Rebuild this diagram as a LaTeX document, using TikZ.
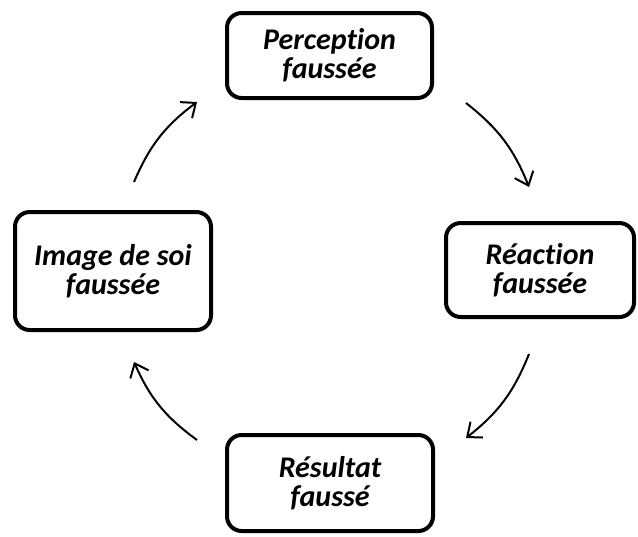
\documentclass[tikz,border=0pt]{standalone}
\usepackage{fontspec}
\setmainfont{Carlito}[RawFeature=-liga]
\usetikzlibrary{arrows.meta}

\tikzset{
  stage/.style={draw, line width=3pt, rounded corners=11pt, align=center, inner sep=0pt,
    font=\fontsize{22.5}{21.5}\selectfont\bfseries\itshape},
  cyc/.style={-{Straight Barb[length=9pt,width=15pt,line width=1.5pt]}, line width=1.5pt, bend left=15},
}

\begin{document}
\begin{tikzpicture}[x=0.75pt,y=-0.75pt]
  \useasboundingbox (0,0) rectangle (638,536);

  \node[stage, minimum width=153.75pt, minimum height=63.75pt] (percep) at (329.5,55.5) {Perception\\faussée};
  \node[stage, minimum width=141pt, minimum height=70.5pt] (reac) at (540,270) {Réaction\\faussée};
  \node[stage, minimum width=154.5pt, minimum height=72pt] (result) at (330,483) {Résultat\\faussé};
  \node[stage, minimum width=147pt, minimum height=88.5pt] (imgsoi) at (113,271) {Image de soi\\faussée};

  % ends of the curved arrows
  \coordinate (a1) at (134,182);
  \coordinate (a2) at (197,102);
  \coordinate (b1) at (466,103);
  \coordinate (b2) at (529,187);
  \coordinate (c1) at (529,354);
  \coordinate (c2) at (466,438);
  \coordinate (d1) at (197,440);
  \coordinate (d2) at (134,362);

  \draw[cyc] (a1) to (a2);
  \draw[cyc] (b1) to (b2);
  \draw[cyc] (c1) to (c2);
  \draw[cyc] (d1) to (d2);
\end{tikzpicture}
\end{document}
